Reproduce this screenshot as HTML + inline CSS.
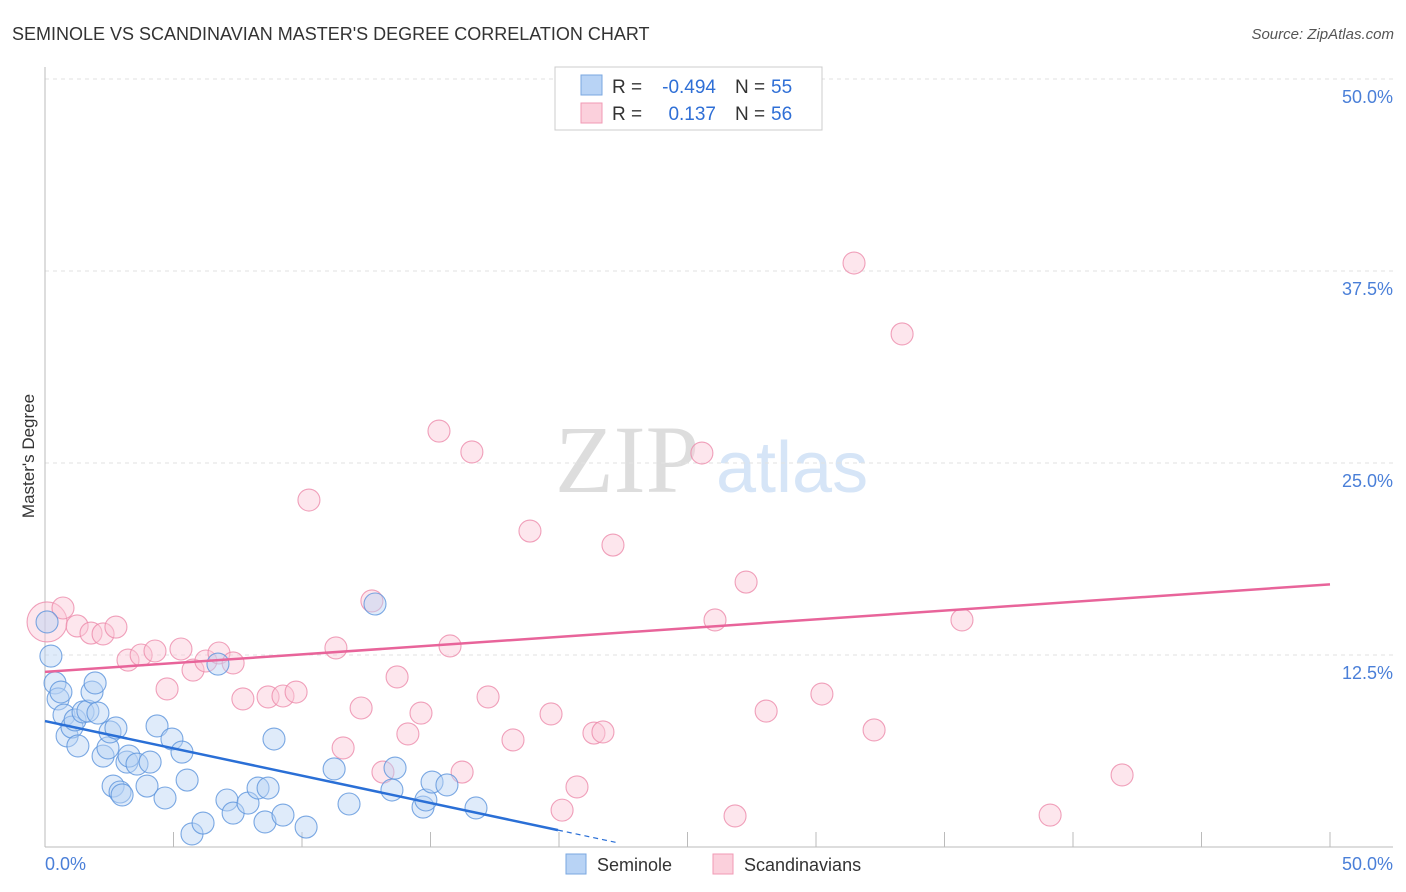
<!DOCTYPE html>
<html><head><meta charset="utf-8"><style>
body{margin:0;background:#fff;font-family:"Liberation Sans",sans-serif}
svg{display:block}
</style></head><body>
<svg width="1406" height="892">
<text x="12" y="40" font-size="18" fill="#333">SEMINOLE VS SCANDINAVIAN MASTER'S DEGREE CORRELATION CHART</text>
<text x="1394" y="39" font-size="15" fill="#555" text-anchor="end" font-style="italic">Source: ZipAtlas.com</text>
<text x="555" y="492" font-size="96" fill="#ddd" font-family="Liberation Serif,serif">ZIP</text>
<text x="716" y="492" font-size="72" fill="#d6e5f7">atlas</text>
<g id="grid"></g>
<line x1="45" y1="67" x2="45" y2="847" stroke="#bbb"/>
<line x1="45" y1="847" x2="1393" y2="847" stroke="#bbb"/>
<g id="pts"></g>
<text x="34" y="456" font-size="17" fill="#333" text-anchor="middle" transform="rotate(-90 34 456)">Master's Degree</text>
<text x="45" y="870" font-size="18" fill="#4a7fd8">0.0%</text>
<text x="1393" y="870" font-size="18" fill="#4a7fd8" text-anchor="end">50.0%</text>
<g>
<rect x="555" y="67" width="267" height="63" fill="#fff" stroke="#ccc"/>
<rect x="581" y="75" width="21" height="20" fill="#b8d3f5" stroke="#7aa7e0"/>
<rect x="581" y="103" width="21" height="20" fill="#fbd0dc" stroke="#f09ab4"/>
<text x="612" y="93" font-size="19" fill="#333">R =</text>
<text x="716" y="93" font-size="19" fill="#2f6fd6" text-anchor="end">-0.494</text>
<text x="735" y="93" font-size="19" fill="#333">N =</text>
<text x="771" y="93" font-size="19" fill="#2f6fd6">55</text>
<text x="612" y="120" font-size="19" fill="#333">R =</text>
<text x="716" y="120" font-size="19" fill="#2f6fd6" text-anchor="end">0.137</text>
<text x="735" y="120" font-size="19" fill="#333">N =</text>
<text x="771" y="120" font-size="19" fill="#2f6fd6">56</text>
</g>
<g>
<rect x="566" y="854" width="20" height="20" fill="#b8d3f5" stroke="#7aa7e0"/>
<text x="597" y="871" font-size="18" fill="#333">Seminole</text>
<rect x="713" y="854" width="20" height="20" fill="#fbd0dc" stroke="#f09ab4"/>
<text x="744" y="871" font-size="18" fill="#333">Scandinavians</text>
</g>
</svg>
<script>
const yTicks=[12.5,25,37.5,50];
const xTicks=[5,10,15,20,25,30,35,40,45,50];
const blueX=[0.08,0.23,0.39,0.51,0.62,0.74,0.86,1.05,1.17,1.28,1.48,1.67,1.83,1.95,2.06,2.26,2.45,2.53,2.76,2.65,2.92,3.0,3.19,3.27,3.58,3.97,4.09,4.36,4.67,4.94,5.33,5.53,5.72,6.15,6.73,7.08,7.32,7.9,8.29,8.56,8.68,8.91,9.26,10.16,11.25,11.83,12.84,13.5,13.62,14.71,14.82,15.06,15.64,16.77];
const blueY=[14.65,12.43,10.68,9.64,10.09,8.59,7.23,7.81,8.27,6.58,8.79,8.85,10.09,10.68,8.72,5.92,6.45,7.49,7.75,3.97,3.58,3.39,5.53,5.92,5.4,3.97,5.53,7.88,3.19,7.03,6.18,4.36,0.85,1.56,11.91,3.06,2.21,2.86,3.84,1.63,3.84,7.03,2.08,1.3,5.08,2.8,15.82,3.71,5.14,2.6,3.06,4.23,4.04,2.54];
const pinkX=[0.08,0.7,1.25,1.79,2.26,2.76,3.23,3.74,4.28,4.75,5.29,5.76,6.26,6.77,7.32,7.7,8.68,9.26,9.77,10.27,11.32,11.6,12.3,13.15,12.72,13.7,14.12,14.63,15.33,15.76,16.23,16.61,17.24,18.21,18.87,19.69,20.12,20.7,21.36,21.71,22.1,25.56,26.07,26.85,27.28,28.06,30.23,31.48,32.26,33.35,35.68,39.11,41.91];
const pinkY=[14.65,15.56,14.39,13.93,13.87,14.32,12.17,12.5,12.76,10.29,12.89,11.52,12.11,12.63,11.98,9.64,9.77,9.83,10.09,22.59,12.96,6.45,9.05,4.88,16.02,11.07,7.36,8.72,27.08,13.09,4.88,25.72,9.77,6.97,20.57,8.66,2.4,3.91,7.42,7.49,19.66,25.65,14.78,2.02,17.25,8.85,9.96,38.02,7.62,33.4,14.78,2.08,4.69];
const pinkTrend=[11.4,17.1];
const blueTrend=[8.2,1.1];
const ns="http://www.w3.org/2000/svg";
const X=v=>45+v*25.7, Y=v=>847-v*15.36;
const grid=document.getElementById('grid'), pts=document.getElementById('pts');
function mk(t,a,p){const e=document.createElementNS(ns,t);for(const k in a)e.setAttribute(k,a[k]);p.appendChild(e);return e;}
yTicks.forEach(v=>{
 const l=mk('line',{x1:45,x2:1393,y1:Y(v),y2:Y(v),stroke:'#e2e2e2','stroke-dasharray':'4 4'},grid);
 
 
 const t=mk('text',{x:1393,y:Y(v)+24,'font-size':18,fill:'#4a7fd8','text-anchor':'end'},grid);
 t.textContent=v.toFixed(1)+'%';
 
 
});
xTicks.forEach(v=>{
 const l=mk('line',{x1:X(v),x2:X(v),y1:832,y2:847,stroke:'#bbb'},grid);
 
 
});
function dots(xs,ys,fill,stroke,name){xs.forEach((x,i)=>{
 const r=i==0?(name=='pink-point'?20:11):11;
 const c=mk('circle',{cx:X(x),cy:Y(ys[i]),r:r,fill:fill,'fill-opacity':0.45,stroke:stroke,'stroke-width':1.1,'stroke-opacity':0.8},pts);
 
 
});}
dots(pinkX,pinkY,'#fbc7d6','#ec8aaa','pink-point');
dots(blueX,blueY,'#b8d3f5','#5b93dc','blue-point');
let l=mk('line',{x1:X(0),y1:Y(pinkTrend[0]),x2:X(50),y2:Y(pinkTrend[1]),stroke:'#e8649a','stroke-width':2.5},pts);

l=mk('line',{x1:X(0),y1:Y(blueTrend[0]),x2:X(19.96),y2:Y(blueTrend[1]),stroke:'#2a6fd6','stroke-width':2.5},pts);

const slope=(blueTrend[1]-blueTrend[0])/19.96;
l=mk('line',{x1:X(19.96),y1:Y(blueTrend[1]),x2:X(22.2),y2:Y(blueTrend[1]+slope*2.24),stroke:'#2a6fd6','stroke-width':1.2,'stroke-dasharray':'5 4'},pts);

</script>
</body></html>
